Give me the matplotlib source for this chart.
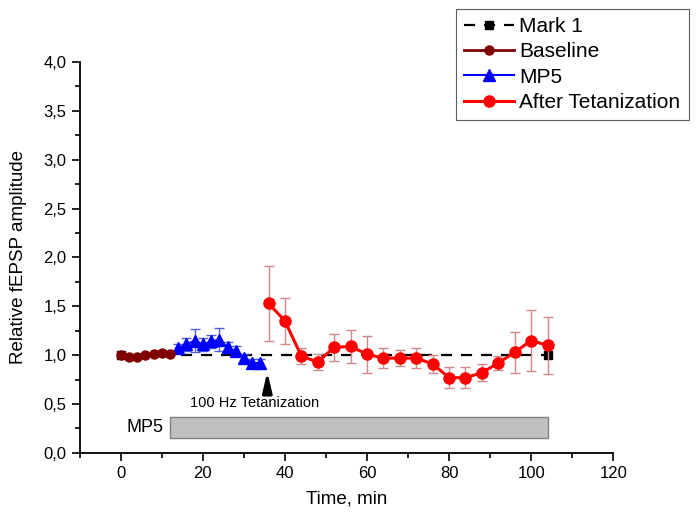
import numpy as np
import matplotlib.pyplot as plt
from matplotlib.lines import Line2D
from matplotlib.ticker import MultipleLocator, FuncFormatter

plt.rcParams['font.family'] = ['Liberation Sans', 'DejaVu Sans']

# data
base_t = [0, 2, 4, 6, 8, 10, 12]
base_v = [1.00, 0.98, 0.98, 1.00, 1.01, 1.02, 1.01]

mp5_t = [14, 16, 18, 20, 22, 24, 26, 28, 30, 32, 34]
mp5_v = [1.07, 1.11, 1.15, 1.11, 1.14, 1.16, 1.08, 1.04, 0.97, 0.92, 0.92]
mp5_err = [0.04, 0.07, 0.12, 0.07, 0.07, 0.12, 0.05, 0.05, 0.04, 0.04, 0.04]

tet_t = [36, 40, 44, 48, 52, 56, 60, 64, 68, 72, 76, 80, 84, 88, 92, 96, 100, 104]
tet_v = [1.53, 1.35, 0.99, 0.93, 1.08, 1.09, 1.01, 0.97, 0.97, 0.97, 0.91,
         0.77, 0.77, 0.82, 0.92, 1.03, 1.15, 1.10]
tet_err = [0.38, 0.24, 0.085, 0.085, 0.14, 0.165, 0.19, 0.1, 0.085, 0.1, 0.09,
           0.11, 0.11, 0.085, 0.07, 0.21, 0.31, 0.295]

mark_t = [0, 104]
mark_v = [1.0, 1.0]

mp5_start, mp5_end = 12, 104
tet_time = 36

fig = plt.figure(figsize=(7, 5.17), dpi=100)
ax = fig.add_axes([0.114, 0.124, 0.762, 0.756])

mark_style = dict(color='black', ls=(0, (5, 4)), lw=1.6, marker='s', markersize=6)
base_style = dict(color='#800000', lw=2, marker='o', markersize=6.5)
mp5_style = dict(color='#0000ff', lw=1.5, marker='^', markersize=8)
tet_style = dict(color='#ff0000', lw=2.2, marker='o', markersize=8)

ax.plot(mark_t, mark_v, zorder=2, **mark_style)
ax.plot(base_t, base_v, zorder=4, **base_style)
ax.errorbar(mp5_t, mp5_v, yerr=mp5_err, ecolor='#5060d0', elinewidth=1,
            capsize=3.5, zorder=3, **mp5_style)
ax.errorbar(tet_t, tet_v, yerr=tet_err, ecolor='#d08888', elinewidth=1,
            capsize=3.5, zorder=3, **tet_style)

# MP5 application bar
ax.fill_between([mp5_start, mp5_end], 0.15, 0.37, facecolor='#c0c0c0',
                edgecolor='#808080', lw=1, zorder=1)
ax.text(mp5_start - 1.5, 0.26, 'MP5', ha='right', va='center', fontsize=13)

# tetanization arrow
ax.annotate('', xy=(tet_time - 0.3, 0.86), xytext=(tet_time - 0.3, 0.64),
            arrowprops=dict(arrowstyle='-|>,head_width=0.28,head_length=1.2',
                            color='black', lw=2.2))
ax.text(32.5, 0.515, '100 Hz Tetanization', ha='center', va='center', fontsize=10.5)

ax.set_xlim(-10, 120)
ax.set_ylim(0, 4.0)
ax.xaxis.set_major_locator(MultipleLocator(20))
ax.xaxis.set_minor_locator(MultipleLocator(10))
ax.yaxis.set_major_locator(MultipleLocator(0.5))
ax.yaxis.set_minor_locator(MultipleLocator(0.25))
ax.yaxis.set_major_formatter(FuncFormatter(lambda v, p: f'{v:.1f}'.replace('.', ',')))
ax.set_xticks([0, 20, 40, 60, 80, 100, 120])

for s in ['top', 'right']:
    ax.spines[s].set_visible(False)
for s in ['left', 'bottom']:
    ax.spines[s].set_linewidth(1.3)
ax.tick_params(which='major', direction='out', length=6, width=1.2, labelsize=12)
ax.tick_params(which='minor', direction='out', length=3.5, width=1.2)

ax.set_xlabel('Time, min', fontsize=13.5, labelpad=7)
ax.set_ylabel('Relative fEPSP amplitude', fontsize=13.5, labelpad=12)

handles = [Line2D([], [], **mark_style), Line2D([], [], **base_style),
           Line2D([], [], **mp5_style), Line2D([], [], **tet_style)]
labels = ['Mark 1', 'Baseline', 'MP5', 'After Tetanization']
leg = ax.legend(handles, labels, loc='upper left', bbox_to_anchor=(0.651, 0.983),
                bbox_transform=fig.transFigure, borderaxespad=0, fontsize=15,
                frameon=True, fancybox=False, edgecolor='#333333',
                handlelength=2.4, handletextpad=0.25, borderpad=0.4,
                labelspacing=0.3)
leg.get_frame().set_linewidth(0.8)

fig.savefig('out.png', dpi=100)
